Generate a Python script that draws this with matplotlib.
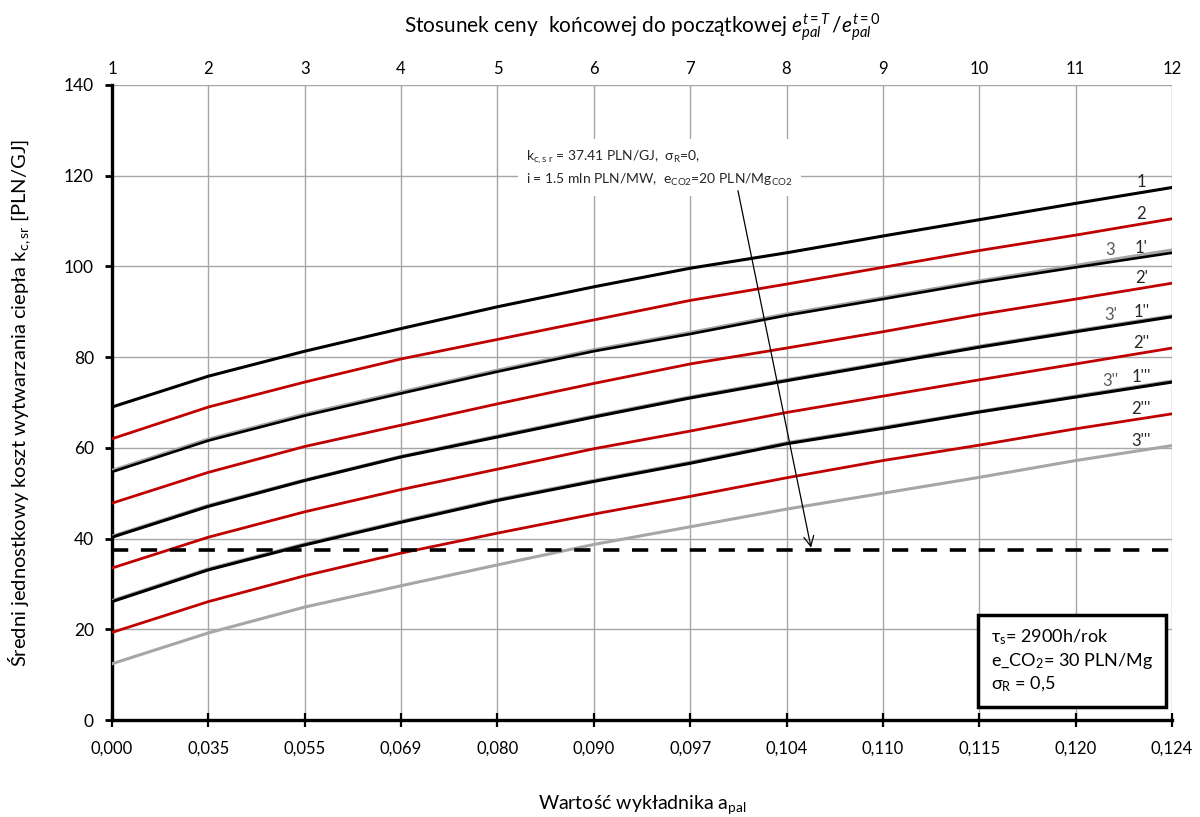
import matplotlib
matplotlib.use("Agg")
import matplotlib.pyplot as plt
import numpy as np

plt.rcParams['font.family'] = ['Lato', 'DejaVu Sans']
plt.rcParams['mathtext.fontset'] = 'custom'
plt.rcParams['mathtext.rm'] = 'Lato'
plt.rcParams['mathtext.it'] = 'Lato:italic'

# wartosci wykladnika a_pal (os dolna) i stosunek cen (os gorna)
a_pal = ['0,000', '0,035', '0,055', '0,069', '0,080', '0,090',
         '0,097', '0,104', '0,110', '0,115', '0,120', '0,124']
ratio = ['1', '2', '3', '4', '5', '6', '7', '8', '9', '10', '11', '12']

# krzywe [PLN/GJ]
k1 = [69.0, 75.8, 81.3, 86.3, 91.1, 95.5, 99.6, 103.0, 106.7, 110.3, 113.9, 117.4]
k2 = [62.0, 69.0, 74.5, 79.6, 83.9, 88.2, 92.5, 96.1, 99.8, 103.5, 106.9, 110.5]
k3 = [55.0, 61.9, 67.4, 72.3, 77.1, 81.6, 85.4, 89.5, 93.1, 96.8, 100.2, 103.6]
k1p = [54.7, 61.6, 67.1, 72.0, 76.8, 81.3, 85.1, 89.2, 92.8, 96.5, 99.8, 103.0]
k2p = [47.8, 54.6, 60.3, 65.0, 69.7, 74.2, 78.5, 82.0, 85.6, 89.4, 92.8, 96.3]
k3p = [40.5, 47.3, 52.9, 58.1, 62.6, 67.0, 71.2, 75.0, 78.7, 82.4, 85.8, 89.1]
k1pp = [40.3, 47.1, 52.8, 58.0, 62.4, 66.8, 71.0, 74.8, 78.5, 82.2, 85.6, 88.9]
k2pp = [33.5, 40.3, 45.9, 50.8, 55.3, 59.8, 63.7, 67.8, 71.4, 75.0, 78.5, 82.0]
k3pp = [26.3, 33.3, 38.8, 43.8, 48.6, 52.8, 56.8, 61.1, 64.5, 68.0, 71.4, 74.7]
k1ppp = [26.1, 33.1, 38.6, 43.6, 48.4, 52.6, 56.6, 60.9, 64.3, 67.9, 71.2, 74.5]
k2ppp = [19.3, 26.1, 31.8, 36.8, 41.2, 45.4, 49.3, 53.4, 57.2, 60.6, 64.2, 67.5]
k3ppp = [12.4, 19.2, 24.9, 29.6, 34.2, 38.7, 42.6, 46.5, 50.0, 53.5, 57.2, 60.5]
k_ref = 37.41

x = np.arange(len(a_pal))

fig = plt.figure(figsize=(12, 8.17), dpi=100)
ax = fig.add_axes([0.0933, 0.1187, 0.8834, 0.7773])

BLACK = '#000000'
RED = '#c00000'
GRAY = '#a6a6a6'

# kolejnosc rysowania: szare pod czarnymi
series = [
    (k3, GRAY, 2.4), (k1p, BLACK, 1.9),
    (k3p, GRAY, 2.4), (k1pp, BLACK, 2.2),
    (k3pp, GRAY, 2.4), (k1ppp, BLACK, 2.2),
    (k1, BLACK, 2.2), (k2, RED, 2.0), (k2p, RED, 2.0),
    (k2pp, RED, 2.0), (k2ppp, RED, 2.0), (k3ppp, GRAY, 2.2),
]
for y, c, lw in series:
    ax.plot(x, y, color=c, lw=lw, zorder=3)

ax.plot([x[0], x[-1]], [k_ref, k_ref], color='black', lw=2.6,
        ls=(0, (4.5, 3.5)), zorder=3)

# etykiety krzywych
lab_black = [('1', k1), ('2', k2), ("1'", k1p), ("2'", k2p), ("1''", k1pp),
             ("2''", k2pp), ("1'''", k1ppp), ("2'''", k2ppp), ("3'''", k3ppp)]
for s, y in lab_black:
    ax.text(10.68, y[-1] + 1.1, s, fontsize=12, color='#262626',
            ha='center', va='center', zorder=5)
lab_gray = [('3', k3), ("3'", k3p), ("3''", k3pp)]
for s, y in lab_gray:
    ax.text(10.36, y[-1] + 0.1, s, fontsize=12, color='#595959',
            ha='center', va='center', zorder=5)

# opis linii przerywanej
ax.text(4.3, 121.6,
        r"k$_{\mathrm{c,s\ r}}$ = 37.41 PLN/GJ,  σ$_{\mathrm{R}}$=0," + "\n" +
        r"i = 1.5 mln PLN/MW,  e$_{\mathrm{CO2}}$=20 PLN/Mg$_{\mathrm{CO2}}$",
        fontsize=10, color='#262626', ha='left', va='center',
        linespacing=1.5, zorder=4,
        bbox=dict(boxstyle='square,pad=0.6', fc='white', ec='none'))
ax.annotate('', xy=(7.26, k_ref), xytext=(6.49, 117.3),
            arrowprops=dict(arrowstyle='->', color='black', lw=0.9,
                            mutation_scale=18), zorder=4)

# ramka z parametrami
ax.text(0.829, 0.093,
        "τ$_{\\mathrm{s}}$= 2900h/rok\ne_CO$_2$= 30 PLN/Mg\nσ$_{\\mathrm{R}}$ = 0,5",
        transform=ax.transAxes, fontsize=13, color='black',
        ha='left', va='center', linespacing=1.25, zorder=6,
        bbox=dict(boxstyle='square,pad=0.7', fc='white', ec='black', lw=2.5))

ax.set_xlim(0, 11)
ax.set_ylim(0, 140)
ax.set_xticks(x)
ax.set_xticklabels(a_pal, fontsize=12)
ax.set_yticks(np.arange(0, 141, 20))
ax.tick_params(axis='y', labelsize=12.5, direction='out', length=5, width=2,
               colors='black', pad=8)
ax.tick_params(axis='x', direction='inout', length=10, width=1.6, pad=10)
ax.grid(True, color='#a6a6a6', lw=1.0, zorder=0)
ax.set_axisbelow(True)
for sp in ['top', 'right']:
    ax.spines[sp].set_visible(False)
for sp in ['left', 'bottom']:
    ax.spines[sp].set_linewidth(2.4)
ax.set_xlabel(r'Wartość wykładnika a$_{\mathrm{pal}}$', fontsize=14, labelpad=26)
ax.set_ylabel(r'Średni jednostkowy koszt wytwarzania ciepła k$_{\mathrm{c,sr}}$ [PLN/GJ]',
              fontsize=14.5, labelpad=22)

# os gorna - stosunek cen
top = ax.twiny()
top.set_xlim(ax.get_xlim())
top.set_xticks(x)
top.set_xticklabels(ratio, fontsize=12)
top.tick_params(axis='x', length=0, pad=6)
for sp in top.spines.values():
    sp.set_visible(False)
top.set_xlabel(r'Stosunek ceny  końcowej do początkowej $e_{pal}^{t=T}\,/e_{pal}^{t=0}$',
               fontsize=15, labelpad=20)

fig.savefig('out.png', dpi=100)
